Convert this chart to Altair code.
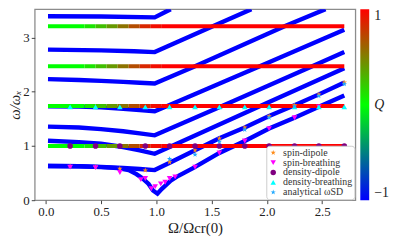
import altair as alt
import pandas as pd

FONT = "Liberation Serif"

# ---------------- blue branches (Q = -1) ----------------
b1_om = [0.02, 0.3, 0.5, 0.65, 0.75, 0.82, 0.87, 0.93, 0.97, 1.01, 1.05, 1.13, 1.2, 1.34, 1.57, 1.80, 2.02, 2.25, 2.47, 2.70]
b1_w = [0.63, 0.625, 0.61, 0.59, 0.555, 0.48, 0.41, 0.30, 0.18, 0.12, 0.21, 0.36, 0.45, 0.60, 0.87, 1.09, 1.32, 1.52, 1.72, 1.93]

b2_om = [0.02, 0.3, 0.5, 0.7, 0.85, 0.985, 1.13, 1.35, 1.57, 1.80, 2.02, 2.25, 2.47, 2.70]
b2_w = [0.63, 0.625, 0.615, 0.595, 0.575, 0.555, 0.70, 0.92, 1.14, 1.34, 1.55, 1.75, 1.95, 2.17]

b3_om = [0.02, 0.3, 0.5, 0.7, 0.85, 0.985, 1.13, 1.5, 2.0, 2.70]
b3_w = [1.095, 1.07, 1.04, 0.98, 0.92, 0.855, 0.99, 1.33, 1.79, 2.43]

b4_om = [0.02, 0.3, 0.5, 0.7, 0.85, 0.985, 1.59, 2.39, 2.70]
b4_w = [1.357, 1.34, 1.31, 1.27, 1.23, 1.195, 1.73, 2.45, 2.73]

b5_om = [0.02, 0.3, 0.5, 0.7, 0.85, 0.985, 1.12, 1.915, 2.70]
b5_w = [1.73, 1.725, 1.71, 1.685, 1.66, 1.64, 1.755, 2.45, 3.14]

b6_om = [0.02, 0.3, 0.5, 0.7, 0.85, 0.985, 1.34, 2.165, 2.53]
b6_w = [2.23, 2.215, 2.20, 2.18, 2.165, 2.15, 2.46, 3.21, 3.52]

b7_om = [0.02, 0.5, 0.8, 0.985, 1.516, 1.86]
b7_w = [2.775, 2.76, 2.745, 2.73, 3.21, 3.52]

b8_om = [0.02, 0.5, 0.985, 1.13]
b8_w = [3.39, 3.385, 3.37, 3.52]

# ---------------- horizontal levels coloured by Q ----------------
h_levels = [1.0, 1.735, 2.47, 3.205]
q_breaks = [0.02, 0.35, 0.45, 0.55, 0.65, 0.75, 0.85, 0.95, 1.05, 2.70]
q_vals = [0.0, 0.1, 0.25, 0.4, 0.55, 0.7, 0.85, 0.95, 1.0]

# ---------------- markers ----------------
mk_om = [0.22, 0.45, 0.67, 0.90, 1.12, 1.35, 1.57, 1.80, 2.02, 2.25, 2.47, 2.70]
sd_w = [0.625, 0.615, 0.58, 0.55, 0.70, 0.92, 1.14, 1.34, 1.55, 1.75, 1.95, 2.17]

sb_om = [0.22, 0.45, 0.67, 0.86, 0.90, 0.955, 0.99, 1.04, 1.08, 1.12, 1.17, 1.35, 1.57, 1.80, 2.02, 2.25, 2.47]
sb_w = [0.61, 0.60, 0.51, 0.38, 0.40, 0.21, 0.25, 0.30, 0.33, 0.40, 0.43, 0.61, 0.87, 1.09, 1.32, 1.52, 1.72]

dd_w = [1.0] * 12
db_w = [1.72] * 12

an_om = [1.12, 1.35, 1.57, 1.80, 2.02, 2.25, 2.47, 2.70]
an_w = [0.76, 0.84, 1.08, 1.30, 1.52, 1.73, 1.92, 2.14]

series_names = ["spin-dipole", "spin-breathing", "density-dipole", "density-breathing", "analytical  \u03c9SD"]
series_colors = ["#ff8c1a", "#ff00ff", "#800080", "#00ffff", "#1ea8ff"]
STAR = "M0,-1L0.235,-0.324L0.951,-0.309L0.38,0.124L0.588,0.809L0,0.4L-0.588,0.809L-0.38,0.124L-0.951,-0.309L-0.235,-0.324Z"
series_shapes = [STAR, "triangle-down", "circle", "triangle-up", STAR]

# ---------------- tables ----------------
branches = [("b1", b1_om, b1_w), ("b2", b2_om, b2_w), ("b3", b3_om, b3_w), ("b4", b4_om, b4_w),
            ("b5", b5_om, b5_w), ("b6", b6_om, b6_w), ("b7", b7_om, b7_w), ("b8", b8_om, b8_w)]
rows = []
for name, xs, ys in branches:
    for i, (x, y) in enumerate(zip(xs, ys)):
        rows.append({"branch": name, "Omega": x, "omega": y, "i": i})
blue_df = pd.DataFrame(rows)

seg_rows = []
for lvl in h_levels:
    for i, q in enumerate(q_vals):
        seg_rows.append({"Omega": q_breaks[i], "Omega2": q_breaks[i + 1], "omega": lvl, "Q": q})
seg_df = pd.DataFrame(seg_rows)

mrows = []
for x, y in zip(mk_om, sd_w):
    mrows.append({"series": series_names[0], "Omega": x, "omega": y})
for x, y in zip(sb_om, sb_w):
    mrows.append({"series": series_names[1], "Omega": x, "omega": y})
for x, y in zip(mk_om, dd_w):
    mrows.append({"series": series_names[2], "Omega": x, "omega": y})
for x, y in zip(mk_om, db_w):
    mrows.append({"series": series_names[3], "Omega": x, "omega": y})
for x, y in zip(an_om, an_w):
    mrows.append({"series": series_names[4], "Omega": x, "omega": y})
mk_df = pd.DataFrame(mrows)

W, H = 324, 193
xscale = alt.Scale(domain=[-0.1, 2.8], nice=False, zero=False)
yscale = alt.Scale(domain=[0, 3.52], nice=False, zero=False)
xaxis = alt.Axis(values=[0, 0.5, 1.0, 1.5, 2.0, 2.5], format=".1f", title="\u03a9/\u03a9cr(0)",
                 titlePadding=2, labelPadding=2)
yaxis = alt.Axis(values=[0, 1, 2, 3], format="d", title="\u03c9/\u03c9\u2093", titleFontStyle="italic",
                 titlePadding=0, labelPadding=2)

lines = alt.Chart(blue_df).mark_line(strokeWidth=4.4, clip=True, color="#0000ff").encode(
    x=alt.X("Omega:Q", scale=xscale, axis=xaxis),
    y=alt.Y("omega:Q", scale=yscale, axis=yaxis),
    detail="branch:N",
    order="i:Q",
)

rules = alt.Chart(seg_df).mark_rule(strokeWidth=4, strokeCap="butt", clip=True).encode(
    x="Omega:Q",
    x2="Omega2:Q",
    y="omega:Q",
    color=alt.Color(
        "Q:Q",
        scale=alt.Scale(domain=[-1, 0, 1], range=["#0000ff", "#00ff00", "#ff0000"], interpolate="rgb"),
        legend=alt.Legend(
            title=None, orient="right", offset=5, direction="vertical",
            gradientLength=H, gradientThickness=9, gradientStrokeWidth=0,
            values=[-1, 0, 1],
            labelExpr="datum.value == 0 ? 'Q' : (datum.value > 0 ? '1' : '\u22121')",
            labelFont=FONT, labelFontSize=14, labelColor="#222", labelOffset=5,
            labelFontStyle={"expr": "datum.value == 0 ? 'italic' : 'normal'"},
        ),
    ),
)

marker_legend = alt.Legend(
    title=None, orient="bottom-right", offset=1, fillColor="white", strokeColor="#cccccc",
    padding=2, cornerRadius=3, labelFont=FONT, labelFontSize=10, labelColor="#333",
    symbolSize=30, rowPadding=-0.6, symbolStrokeWidth=0, labelOffset=5,
)
markers = alt.Chart(mk_df).mark_point(filled=True, size=32, opacity=1, clip=True).encode(
    x="Omega:Q",
    y="omega:Q",
    color=alt.Color("series:N", scale=alt.Scale(domain=series_names, range=series_colors),
                    legend=marker_legend),
    shape=alt.Shape("series:N", scale=alt.Scale(domain=series_names, range=series_shapes),
                    legend=marker_legend),
)

chart = alt.layer(lines, rules, markers).resolve_scale(
    color="independent", shape="independent"
).properties(
    width=W, height=H, padding=0
).configure_view(
    stroke="#8c8c8c", strokeWidth=1.3
).configure_axis(
    domain=False, grid=False, tickColor="#444", tickSize=3.5, tickWidth=1,
    labelFont=FONT, labelFontSize=13, labelColor="#222",
    titleFont=FONT, titleFontSize=15, titleColor="#222", titleFontWeight="normal",
)

chart.save("out.html", embed_options={"renderer": "svg", "actions": False})
